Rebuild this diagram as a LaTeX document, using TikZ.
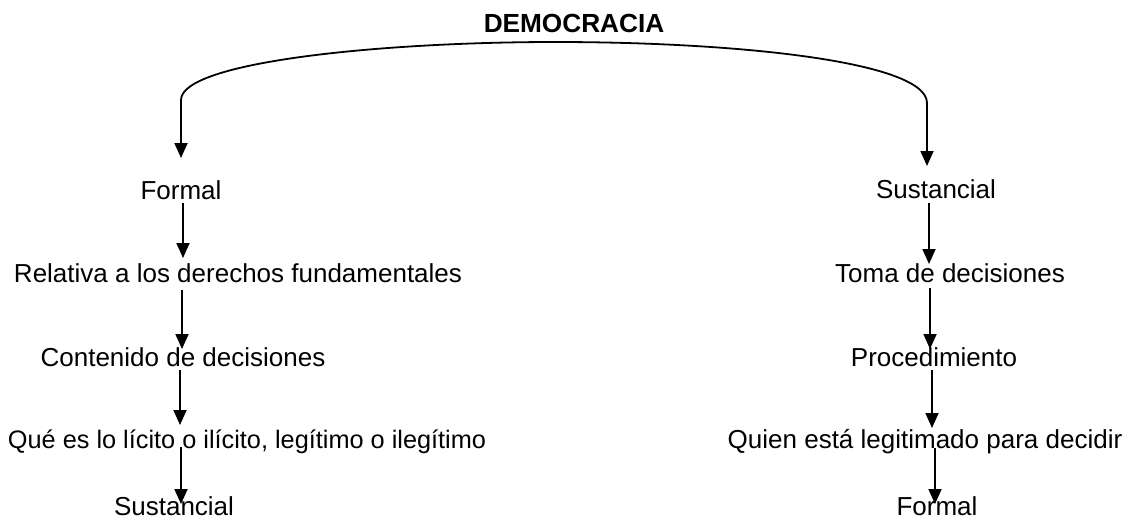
\documentclass[tikz,border=0pt]{standalone}
\usepackage{fontspec}
\setmainfont{Liberation Sans}
\usetikzlibrary{arrows.meta}
\begin{document}
\begin{tikzpicture}[x=1pt,y=-1pt,
  lbl/.style={inner sep=0pt,anchor=base,font=\fontsize{26}{30}\selectfont},
  ttl/.style={lbl,font=\fontsize{26.2}{30}\selectfont\bfseries},
  tip/.tip={Triangle[width=13pt,length=15pt]},
  arr/.style={line width=1.8pt,-tip}]
\useasboundingbox (0,0) rectangle (1138,520);
% titles and labels
\node[ttl] (dem) at (574,32) {DEMOCRACIA};
\node[lbl] (fL) at (181,199) {Formal};
\node[lbl] (l1) at (238,282) {Relativa a los derechos fundamentales};
\node[lbl] (l2) at (183,366) {Contenido de decisiones};
\node[lbl,font=\fontsize{25.3}{30}\selectfont] (l3) at (247,448) {Qué es lo lícito o ilícito, legítimo o ilegítimo};
\node[lbl] (l4) at (174,515) {Sustancial};
\node[lbl] (sR) at (936,198) {Sustancial};
\node[lbl] (r1) at (950,282) {Toma de decisiones};
\node[lbl] (r2) at (934,366) {Procedimiento};
\node[lbl] (r3) at (925,448) {Quien está legitimado para decidir};
\node[lbl] (r4) at (937,515) {Formal};
% arc from title
\coordinate (aL) at (181,158);
\coordinate (aR) at (927,166);
\draw[line width=1.8pt,tip-tip]
  (aL) -- (181,100) .. controls (181,62) and (380,42) .. (555,42)
  .. controls (740,42) and (927,62) .. (927,103) -- (aR);
% left chain
\coordinate (a1s) at (183,203); \coordinate (a1e) at (183,258);
\coordinate (a2s) at (182,290); \coordinate (a2e) at (182,349);
\coordinate (a3s) at (180,370); \coordinate (a3e) at (180,425);
\coordinate (a4s) at (181,447); \coordinate (a4e) at (181,504);
\draw[arr] (a1s) -- (a1e);
\draw[arr] (a2s) -- (a2e);
\draw[arr] (a3s) -- (a3e);
\draw[arr] (a4s) -- (a4e);
% right chain
\coordinate (b1s) at (929,203); \coordinate (b1e) at (929,264);
\coordinate (b2s) at (930,288); \coordinate (b2e) at (930,349);
\coordinate (b3s) at (932,370); \coordinate (b3e) at (932,428);
\coordinate (b4s) at (935,448); \coordinate (b4e) at (935,504);
\draw[arr] (b1s) -- (b1e);
\draw[arr] (b2s) -- (b2e);
\draw[arr] (b3s) -- (b3e);
\draw[arr] (b4s) -- (b4e);
\end{tikzpicture}
\end{document}
